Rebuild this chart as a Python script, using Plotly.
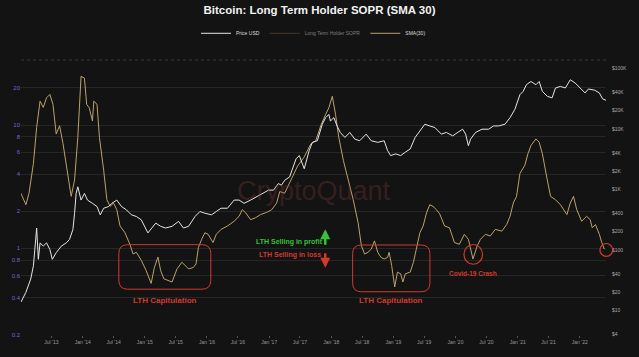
import plotly.graph_objects as go

# ---------------- data ----------------
sopr_dates = [
    "2013-01-02", "2013-02-01", "2013-02-19", "2013-03-17", "2013-04-05", "2013-04-25", "2013-05-14",
    "2013-06-02", "2013-06-22", "2013-07-10", "2013-07-29", "2013-08-18", "2013-09-07", "2013-09-26",
    "2013-10-25", "2013-11-14", "2013-12-03", "2013-12-22", "2014-01-11", "2014-01-24", "2014-02-08",
    "2014-02-27", "2014-03-07", "2014-03-26", "2014-04-09", "2014-05-04", "2014-05-23", "2014-06-11",
    "2014-07-01", "2014-07-20", "2014-08-08", "2014-09-06", "2014-10-05", "2014-10-24", "2014-11-12",
    "2014-12-11", "2015-01-09", "2015-02-07", "2015-02-26", "2015-03-19", "2015-04-04", "2015-04-23",
    "2015-05-21", "2015-06-10", "2015-07-09", "2015-08-07", "2015-09-15", "2015-10-13", "2015-10-29",
    "2015-11-12", "2015-12-01", "2015-12-20", "2016-01-08", "2016-02-06", "2016-02-25", "2016-03-24",
    "2016-05-01", "2016-06-09", "2016-07-08", "2016-07-27", "2016-08-16", "2016-09-14", "2016-10-12",
    "2016-11-11", "2016-12-18", "2017-01-16", "2017-02-14", "2017-03-04", "2017-04-02", "2017-05-01",
    "2017-05-20", "2017-06-17", "2017-07-26", "2017-09-03", "2017-10-02", "2017-10-31", "2017-11-29",
    "2017-12-18", "2018-01-07", "2018-01-26", "2018-02-14", "2018-03-13", "2018-04-11", "2018-05-10",
    "2018-06-08", "2018-06-27", "2018-07-16", "2018-08-05", "2018-08-24", "2018-09-12", "2018-10-01",
    "2018-10-20", "2018-11-08", "2018-11-28", "2018-12-07", "2018-12-22", "2019-01-09", "2019-01-25",
    "2019-02-13", "2019-02-26", "2019-03-12", "2019-04-10", "2019-04-29", "2019-05-18", "2019-06-06",
    "2019-06-25", "2019-07-15", "2019-08-03", "2019-08-22", "2019-09-11", "2019-09-30", "2019-10-29",
    "2019-11-27", "2019-12-26", "2020-01-24", "2020-02-22", "2020-03-17", "2020-04-13", "2020-05-08",
    "2020-05-27", "2020-06-25", "2020-07-24", "2020-08-22", "2020-09-30", "2020-10-28", "2020-11-17",
    "2020-12-06", "2020-12-25", "2021-01-14", "2021-02-12", "2021-03-02", "2021-03-20", "2021-04-18",
    "2021-05-07", "2021-05-26", "2021-06-24", "2021-07-13", "2021-08-11", "2021-09-09", "2021-10-17",
    "2021-11-06", "2021-11-25", "2021-12-14", "2022-01-12", "2022-02-10", "2022-03-03", "2022-03-15",
    "2022-04-03", "2022-04-26", "2022-05-10", "2022-05-25",
]
sopr_sma30 = [
    2.80, 2.26, 2.80, 4.87, 9.57, 15.6, 13.9,
    16.6, 17.7, 14.7, 8.46, 9.86, 7.04, 4.87,
    2.64, 3.58, 7.96, 24.8, 24.0, 14.7, 13.8,
    10.8, 15.6, 14.7, 7.96, 4.30, 2.48, 2.19,
    2.33, 2.06, 1.52, 1.34, 1.08, 0.90, 0.93,
    0.80, 0.66, 0.52, 0.70, 0.85, 0.66, 0.567,
    0.551, 0.534, 0.682, 0.772, 0.682, 0.70, 0.748,
    1.017, 1.185, 1.34, 1.30, 1.115, 1.30, 1.425,
    1.52, 1.66, 1.82, 2.06, 1.94, 1.71, 1.77,
    1.88, 1.96, 2.06, 2.33, 2.89, 2.80, 3.37,
    3.81, 4.65, 5.51, 7.04, 7.48, 9.86, 12.2,
    13.8, 17.1, 12.2, 7.96, 5.17, 3.58, 2.48,
    1.61, 1.05, 0.90, 0.93, 0.986, 1.15, 0.93,
    0.846, 0.82, 0.846, 0.93, 0.726, 0.487, 0.642,
    0.622, 0.534, 0.622, 0.642, 0.772, 1.05, 1.34,
    1.52, 1.94, 2.26, 2.19, 2.06, 1.91, 1.52,
    1.47, 1.115, 1.08, 1.30, 1.185, 0.82, 1.05,
    1.185, 1.30, 1.26, 1.425, 1.38, 1.56, 1.82,
    2.33, 2.64, 4.05, 4.72, 5.85, 6.82, 7.72,
    7.26, 5.85, 3.58, 2.64, 2.48, 2.26, 1.88,
    2.33, 2.64, 2.06, 1.66, 1.82, 1.71, 1.47,
    1.56, 1.30, 1.115, 0.986,
]

price_dates = [
    "2013-01-03", "2013-02-01", "2013-03-01", "2013-03-17", "2013-04-05", "2013-04-15", "2013-04-25",
    "2013-05-14", "2013-06-02", "2013-06-22", "2013-07-06", "2013-07-29", "2013-08-28", "2013-09-26",
    "2013-10-15", "2013-11-04", "2013-11-14", "2013-11-23", "2013-12-03", "2013-12-22", "2014-01-11",
    "2014-01-29", "2014-02-27", "2014-03-26", "2014-04-14", "2014-05-04", "2014-06-02", "2014-06-21",
    "2014-07-20", "2014-08-17", "2014-09-15", "2014-10-14", "2014-11-12", "2014-12-11", "2015-01-19",
    "2015-02-17", "2015-03-06", "2015-04-04", "2015-05-03", "2015-06-10", "2015-07-18", "2015-08-16",
    "2015-09-15", "2015-10-23", "2015-11-21", "2015-12-20", "2016-01-28", "2016-02-25", "2016-03-24",
    "2016-05-01", "2016-06-09", "2016-07-08", "2016-08-06", "2016-09-14", "2016-10-22", "2016-11-30",
    "2016-12-28", "2017-01-26", "2017-02-24", "2017-03-14", "2017-04-02", "2017-05-01", "2017-05-20",
    "2017-06-08", "2017-06-27", "2017-07-16", "2017-07-26", "2017-08-24", "2017-09-12", "2017-10-11",
    "2017-11-09", "2017-11-29", "2017-12-18", "2017-12-27", "2018-01-16", "2018-02-04", "2018-02-23",
    "2018-03-22", "2018-04-20", "2018-05-19", "2018-06-17", "2018-07-25", "2018-08-24", "2018-10-01",
    "2018-11-08", "2018-11-28", "2018-12-16", "2019-01-15", "2019-02-13", "2019-03-12", "2019-04-10",
    "2019-05-09", "2019-06-06", "2019-07-05", "2019-08-03", "2019-09-02", "2019-10-10", "2019-11-08",
    "2019-12-16", "2020-01-14", "2020-02-12", "2020-03-01", "2020-03-17", "2020-03-30", "2020-04-28",
    "2020-06-05", "2020-07-14", "2020-08-12", "2020-09-10", "2020-10-18", "2020-11-17", "2020-12-15",
    "2021-01-14", "2021-02-02", "2021-02-21", "2021-03-20", "2021-04-18", "2021-05-07", "2021-05-26",
    "2021-06-24", "2021-07-22", "2021-08-11", "2021-09-09", "2021-10-08", "2021-11-06", "2021-12-05",
    "2022-01-03", "2022-02-01", "2022-02-21", "2022-03-29", "2022-04-26", "2022-05-15", "2022-06-04",
]
price_usd = [
    13.7, 19.9, 32.8, 54.3, 229, 69.6, 130,
    115, 130, 101, 69.6, 89.5, 115, 130,
    148, 215, 402, 854, 1098, 663, 854,
    663, 586, 518, 378, 486, 518, 586,
    663, 518, 456, 378, 355, 313, 190,
    244, 276, 244, 229, 244, 295, 229,
    244, 355, 429, 402, 378, 429, 486,
    486, 663, 663, 586, 663, 754, 854,
    967, 967, 1243, 1166, 1408, 1600, 2185,
    3183, 3603, 2540, 2185, 4348, 5963, 6333,
    11868, 15261, 17277, 13430, 15261, 11130, 8684,
    7195, 8684, 6750, 6333, 8147, 6333, 5963,
    6333, 4348, 3603, 3840, 3603, 4095, 4636,
    7195, 9222, 11868, 11130, 10481, 8147, 8684,
    7642, 8684, 9831, 8147, 5248, 6750, 8684,
    9831, 9831, 11130, 11130, 11868, 15261, 20850,
    36644, 41482, 53384, 60423, 53384, 60423, 41482,
    34385, 32374, 47150, 50070, 47150, 64420, 56890,
    47150, 39070, 45420, 43410, 39070, 31170, 29580,
]

sopr_tick_vals = [0.2, 0.4, 0.6, 0.8, 1, 2, 4, 6, 8, 10, 20]
sopr_tick_text = ["0.2", "0.4", "0.6", "0.8", "1", "2", "4", "6", "8", "10", "20"]
price_tick_vals = [4, 10, 20, 40, 100, 200, 400, 1000, 2000, 4000, 10000, 20000, 40000, 100000]
price_tick_text = ["$4", "$10", "$20", "$40", "$100", "$200", "$400", "$1K", "$2K", "$4K",
                   "$10K", "$20K", "$40K", "$100K"]
x_tick_vals = ["2013-07-01", "2014-01-01", "2014-07-01", "2015-01-01", "2015-07-01", "2016-01-01",
               "2016-07-01", "2017-01-01", "2017-07-01", "2018-01-01", "2018-07-01", "2019-01-01",
               "2019-07-01", "2020-01-01", "2020-07-01", "2021-01-01", "2021-07-01", "2022-01-01"]
x_tick_text = ["Jul '13", "Jan '14", "Jul '14", "Jan '15", "Jul '15", "Jan '16", "Jul '16",
               "Jan '17", "Jul '17", "Jan '18", "Jul '18", "Jan '19", "Jul '19", "Jan '20",
               "Jul '20", "Jan '21", "Jul '21", "Jan '22"]

# ---------------- layout helpers ----------------
W, H = 639, 357
PL, PR, PT, PB = 17, 615, 60, 338
BG = "#131313"
RED = "#d23a2c"
GREEN = "#36c236"
FONT = "Liberation Sans, Arial, sans-serif"


def px(xp, yp):
    return (xp - PL) / (PR - PL), (PB - yp) / (PB - PT)


def rounded_rect(x0, y0, x1, y1, r):
    fx0, fy0 = px(x0, y0)
    fx1, fy1 = px(x1, y1)
    rx = r / (PR - PL)
    ry = r / (PB - PT)
    return (f"M {fx0 + rx},{fy0} L {fx1 - rx},{fy0} Q {fx1},{fy0} {fx1},{fy0 - ry} "
            f"L {fx1},{fy1 + ry} Q {fx1},{fy1} {fx1 - rx},{fy1} "
            f"L {fx0 + rx},{fy1} Q {fx0},{fy1} {fx0},{fy1 + ry} "
            f"L {fx0},{fy0 - ry} Q {fx0},{fy0} {fx0 + rx},{fy0} Z")


fig = go.Figure()

fig.add_trace(go.Scatter(
    x=price_dates, y=price_usd, name="Price USD", yaxis="y2", mode="lines",
    line=dict(color="#e6e6e6", width=1),
))
# raw series is switched off in the reference (legend entry only)
fig.add_trace(go.Scatter(
    x=sopr_dates, y=sopr_sma30, name="Long Term Holder SOPR", yaxis="y", mode="lines",
    visible="legendonly", line=dict(color="#7a5a48", width=1),
))
fig.add_trace(go.Scatter(
    x=sopr_dates, y=sopr_sma30, name="SMA(30)", yaxis="y", mode="lines",
    line=dict(color="#bba26c", width=1),
))

shapes = []
shapes.append(dict(type="line", xref="paper", yref="paper", x0=0, x1=1, y0=1, y1=1,
                   line=dict(color="#3a3a3a", width=1, dash="dot")))
shapes.append(dict(type="line", xref="paper", yref="y", x0=0, x1=1, y0=0, y1=0,
                   line=dict(color="rgba(190,140,100,0.75)", width=1, dash="dot")))
shapes.append(dict(type="path", xref="paper", yref="paper", path=rounded_rect(117, 246.7, 211, 291.7, 9),
                   line=dict(color=RED, width=1)))
shapes.append(dict(type="path", xref="paper", yref="paper", path=rounded_rect(356, 247, 435, 294.3, 9),
                   line=dict(color=RED, width=1)))
cx0, cy0 = px(469.8, 266.5)
cx1, cy1 = px(488.8, 246.5)
shapes.append(dict(type="circle", xref="paper", yref="paper", x0=cx0, y0=cy0, x1=cx1, y1=cy1,
                   line=dict(color=RED, width=1.2)))
cx0, cy0 = px(608.8, 258.5)
cx1, cy1 = px(621.8, 245.5)
shapes.append(dict(type="circle", xref="paper", yref="paper", x0=cx0, y0=cy0, x1=cx1, y1=cy1,
                   line=dict(color=RED, width=1.2)))

annotations = []


def text(xp, yp, s, color, size, bold=True):
    fx, fy = px(xp, yp)
    annotations.append(dict(xref="paper", yref="paper", x=fx, y=fy, text=(f"<b>{s}</b>" if bold else s),
                            showarrow=False, font=dict(color=color, size=size, family=FONT),
                            xanchor="center", yanchor="middle"))


def arrow(x, y_tail, y_head, color):
    fx, fyh = px(x, y_head)
    annotations.append(dict(xref="paper", yref="paper", x=fx, y=fyh, ax=0, ay=y_tail - y_head,
                            axref="pixel", ayref="pixel", text="", showarrow=True,
                            arrowhead=2, arrowsize=0.8, arrowwidth=2.5, arrowcolor=color))


text(316, 192, "CryptoQuant", "rgba(120,55,55,0.35)", 27, bold=False)
text(164, 303, "LTH Capitulation", RED, 8)
text(395, 303, "LTH Capitulation", RED, 8)
text(479, 276, "Covid-19 Crash", RED, 6.5)
text(291.5, 244, "LTH Selling in profit", GREEN, 7)
text(291.5, 256.7, "LTH Selling in loss", RED, 7)
arrow(328, 248, 231, GREEN)
arrow(328, 254, 270, RED)

fig.update_layout(
    width=W, height=H,
    margin=dict(l=PL, r=W - PR, t=PT, b=H - PB, pad=0),
    paper_bgcolor=BG, plot_bgcolor=BG,
    title=dict(text="<b>Bitcoin: Long Term Holder SOPR (SMA 30)</b>", x=0.5, xanchor="center",
               y=1 - 10 / H, yanchor="middle",
               font=dict(family=FONT, size=11.5, color="#f2f2f2")),
    showlegend=True,
    legend=dict(orientation="h", x=0.5, xanchor="center", y=(PB - 33) / (PB - PT), yanchor="middle",
                font=dict(size=5, color="#dddddd", family=FONT), bgcolor="rgba(0,0,0,0)",
                itemwidth=30, traceorder="normal"),
    xaxis=dict(type="date", range=["2013-01-03", "2022-06-04"], tickvals=x_tick_vals,
               ticktext=x_tick_text, showgrid=False, zeroline=False, showline=False,
               ticks="outside", ticklen=2, tickcolor="#555555",
               tickfont=dict(size=5, color="#9a9a9a", family=FONT)),
    yaxis=dict(type="log", range=[-0.702, 1.527], tickvals=sopr_tick_vals, ticktext=sopr_tick_text,
               showgrid=True, gridcolor="#262626", gridwidth=1, zeroline=False, showline=False,
               ticks="", tickfont=dict(size=6, color="#7466d6", family=FONT)),
    yaxis2=dict(type="log", range=[0.592, 5.136], overlaying="y", side="right",
                tickvals=price_tick_vals, ticktext=price_tick_text, showgrid=False,
                zeroline=False, showline=False, ticks="", ticklabelstandoff=5,
                tickfont=dict(size=5, color="#a8a8a8", family=FONT)),
    shapes=shapes,
    annotations=annotations,
)

fig.write_html("out.html", config={"displayModeBar": False},
               post_script="document.body.style.margin='0';document.body.style.background='#131313';")
